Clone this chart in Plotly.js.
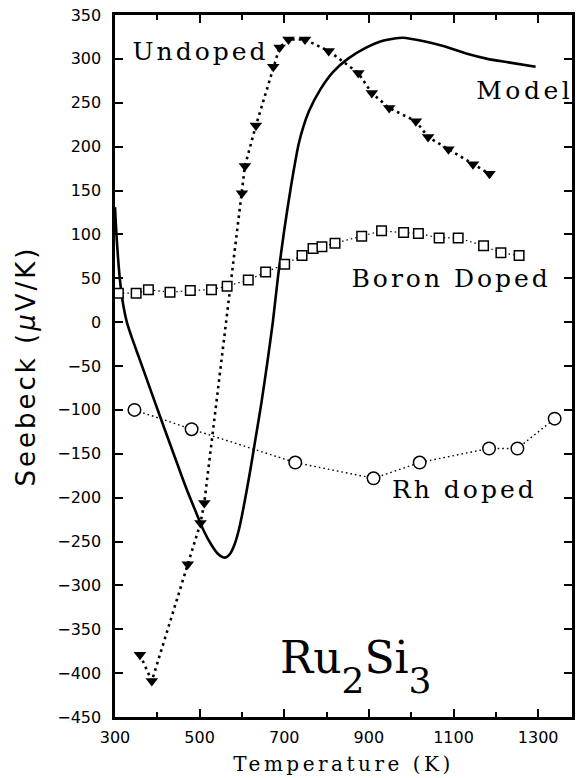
<!DOCTYPE html>
<html>
<head>
<meta charset="utf-8">
<script src="https://cdn.plot.ly/plotly-3.0.1.min.js"></script>
<style>
html,body{margin:0;padding:0;background:#fff;}
#chart{width:577px;height:778px;}
</style>
</head>
<body>
<div id="chart"></div>
<script>
// Model curve
const modelT = [300,302,305,309,314,320,328,340,355,372,392,415,440,465,490,510,528,543,555,563,572,582,592,601,610,620,632,646,660,673,686,700,716,735,758,785,815,850,890,935,980,1030,1080,1130,1180,1230,1294];
const modelV = [131,112,88,62,38,18,0,-18,-38,-61,-88,-119,-152,-185,-215,-238,-254,-264,-268,-268,-264,-254,-238,-218,-195,-168,-133,-92,-46,0,55,105,155,205,240,265,285,300,312,321,324,320,314,306,300,296,291];

// Undoped
const undopedT = [359,387,472,502,511,600,607,633,674,689,710,749,805,875,907,948,1011,1040,1088,1146,1185];
const undopedV = [-379,-409,-276,-229,-206,147,178,224,291,313,322,322,309,284,261,244,229,211,197,180,169];

// Boron doped
const boronT = [308,350,379,430,478,528,565,615,656,701,742,768,789,820,883,930,982,1017,1066,1111,1171,1212,1255];
const boronV = [33,33,37,34,36,37,41,48,57,66,76,84,86,90,98,104,102,101,96,96,87,79,76];

// Rh doped
const rhT = [346,481,726,911,1020,1184,1251,1339];
const rhV = [-100,-122,-160,-178,-160,-144,-144,-110];

// Axis ticks
const xTickVals = [300,500,700,900,1100,1300];
const xTickText = ['300','500','700','900','1100','1300'];

const traces = [
  {x: modelT, y: modelV, mode: 'lines', line: {color: '#000', width: 2.6, shape: 'spline', smoothing: 0.6}, hoverinfo: 'skip'},
  {x: undopedT, y: undopedV, mode: 'lines+markers', line: {color: '#000', width: 2.6, dash: '2.6px,4px'},
   marker: {symbol: 'triangle-down', size: 11, color: '#000'}},
  {x: boronT, y: boronV, mode: 'lines+markers', line: {color: '#000', width: 1.2, dash: '1.5px,3px'},
   marker: {symbol: 'square', size: 9.5, color: '#fff', line: {color: '#000', width: 1.5}}},
  {x: rhT, y: rhV, mode: 'lines+markers', line: {color: '#000', width: 1.4, dash: '1.6px,3px'},
   marker: {symbol: 'circle', size: 12.5, color: '#fff', line: {color: '#000', width: 1.5}}}
];

const subSpan = d => '<span style="font-size:36px;baseline-shift:-20px">' + d + '</span>';

const annFont = {family: 'DejaVu Serif', size: 25, color: '#000'};
const layout = {
  width: 577, height: 778,
  margin: {l: 115, r: 5, t: 15, b: 61},
  paper_bgcolor: '#fff', plot_bgcolor: '#fff',
  showlegend: false,
  xaxis: {
    range: [300, 1380], tickvals: xTickVals, ticktext: xTickText,
    ticks: 'inside', ticklen: 8, tickwidth: 2, tickcolor: '#000',
    minor: {dtick: 100, tick0: 300, ticks: 'inside', ticklen: 5, tickwidth: 2, tickcolor: '#000'},
    showline: true, linewidth: 2.6, linecolor: '#000', mirror: 'ticks',
    showgrid: false, zeroline: false,
    tickfont: {family: 'DejaVu Sans', size: 16, color: '#000'},
    ticklabelstandoff: 4,
    title: {text: 'Temperature (K)', font: {family: 'DejaVu Serif', size: 20, color: '#000'}, standoff: 12}
  },
  yaxis: {
    range: [-450, 350], dtick: 50, tick0: 0,
    ticks: 'inside', ticklen: 8, tickwidth: 2, tickcolor: '#000',
    showline: true, linewidth: 2.6, linecolor: '#000', mirror: 'ticks',
    showgrid: false, zeroline: false,
    tickfont: {family: 'DejaVu Sans', size: 16, color: '#000'},
    ticklabelstandoff: 8,
    title: {text: 'Seebeck (<i>μ</i>V/K)', font: {family: 'DejaVu Sans', size: 26, color: '#000'}, standoff: 14}
  },
  annotations: [
    {x: 503, y: 308, text: 'Undoped', showarrow: false, font: annFont, xanchor: 'center', yanchor: 'middle'},
    {x: 1267, y: 264, text: 'Model', showarrow: false, font: annFont, xanchor: 'center', yanchor: 'middle'},
    {x: 1093, y: 50, text: 'Boron Doped', showarrow: false, font: annFont, xanchor: 'center', yanchor: 'middle'},
    {x: 1126, y: -191, text: 'Rh doped', showarrow: false, font: annFont, xanchor: 'center', yanchor: 'middle'},
    {x: 870, y: -393, text: 'Ru' + subSpan('2') + 'Si' + subSpan('3'), showarrow: false, font: {family: 'DejaVu Serif', size: 44, color: '#000'}, xanchor: 'center', yanchor: 'middle'}
  ]
};

Plotly.newPlot('chart', traces, layout, {displayModeBar: false, staticPlot: true}).then(function (gd) {
  // widen letter spacing of the typewriter-like labels (centered text stays centered)
  const spacing = {'Undoped': 3, 'Model': 3.5, 'Boron Doped': 3, 'Rh doped': 3};
  gd.querySelectorAll('.annotation-text').forEach(function (t) {
    const s = spacing[t.textContent];
    if (s) t.style.letterSpacing = s + 'px';
  });
  const xt = gd.querySelector('.xtitle');
  if (xt) xt.style.letterSpacing = '3.5px';
  const yt = gd.querySelector('.ytitle');
  if (yt) yt.style.letterSpacing = '3px';
});
</script>
</body>
</html>
